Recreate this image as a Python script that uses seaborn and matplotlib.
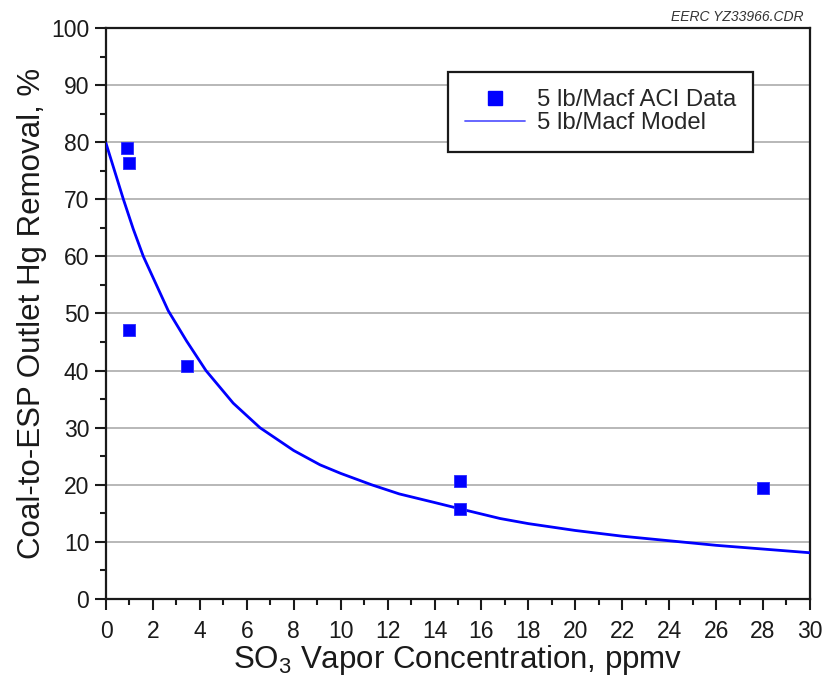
import matplotlib
matplotlib.use("Agg")
import matplotlib.pyplot as plt
from matplotlib.lines import Line2D
from matplotlib.ticker import MultipleLocator
import seaborn as sns
import pandas as pd

# Measured ACI data: SO3 vapor concentration (ppmv) vs. Hg removal (%)
so3_data = [0.9, 1.0, 1.0, 3.45, 15.1, 15.1, 28.0]
hg_removal_data = [79.0, 76.4, 47.1, 40.8, 20.7, 15.8, 19.5]

# Model curve for 5 lb/Macf injection
so3_model = [0.0, 0.74, 1.16, 1.59, 2.65, 3.43, 4.26, 5.42, 6.56, 8.0, 9.12,
             10.0, 11.32, 12.5, 14.0, 15.08, 16.79, 18.0, 20.0, 22.0, 24.0, 26.0, 28.0, 30.0]
hg_removal_model = [79.8, 70.0, 64.8, 60.0, 50.5, 45.2, 40.0, 34.3, 30.0, 26.0, 23.5,
                    22.0, 20.0, 18.4, 16.9, 15.8, 14.1, 13.2, 12.0, 11.0, 10.2, 9.4, 8.75, 8.1]

data_label = "5 lb/Macf ACI Data"
model_label = "5 lb/Macf Model"
x_ticks = list(range(0, 31, 2))
y_ticks = list(range(0, 101, 10))

df_data = pd.DataFrame({"so3": so3_data, "hg": hg_removal_data})
df_model = pd.DataFrame({"so3": so3_model, "hg": hg_removal_model})

sns.set_style("ticks")
plt.rcParams["font.family"] = ["Liberation Sans", "DejaVu Sans"]
plt.rcParams["mathtext.fontset"] = "custom"
plt.rcParams["mathtext.rm"] = "Liberation Sans"
plt.rcParams["mathtext.it"] = "Liberation Sans:italic"
plt.rcParams["mathtext.bf"] = "Liberation Sans:bold"

fig = plt.figure(figsize=(8.27, 6.76), dpi=100)
ax = fig.add_axes([0.1282, 0.1139, 0.8512, 0.8447])

ax.yaxis.grid(True, color="#b8b8b8", lw=1.4, zorder=0)
ax.set_axisbelow(True)

sns.lineplot(data=df_model, x="so3", y="hg", ax=ax, color="#0000ff", lw=2.0,
             estimator=None, sort=True, legend=False, zorder=3)
sns.scatterplot(data=df_data, x="so3", y="hg", ax=ax, color="#0000ff", marker="s",
                s=85, edgecolor="#2a2aff", linewidth=0.6, legend=False, zorder=4)

ax.set_xlim(0, 30)
ax.set_ylim(0, 100)
ax.set_xticks(x_ticks)
ax.set_yticks(y_ticks)
ax.xaxis.set_minor_locator(MultipleLocator(1))
ax.yaxis.set_minor_locator(MultipleLocator(5))
ax.tick_params(which="major", direction="out", length=8, width=1.5,
               labelsize=16.5, color="#1a1a1a", labelcolor="#1a1a1a")
ax.tick_params(axis="x", which="major", pad=7)
ax.tick_params(axis="y", which="major", pad=4)
ax.tick_params(which="minor", direction="out", length=4.5, width=1.5, color="#1a1a1a")

for sp in ax.spines.values():
    sp.set_visible(True)
    sp.set_color("#1a1a1a")
    sp.set_linewidth(1.6)

ax.set_xlabel("SO$_3$ Vapor Concentration, ppmv", fontsize=22.5, color="#1a1a1a", labelpad=0)
ax.set_ylabel("Coal-to-ESP Outlet Hg Removal, %", fontsize=22.5, color="#1a1a1a", labelpad=3)

handles = [
    Line2D([], [], marker="s", ls="none", color="#0000ff", markersize=9.5),
    Line2D([], [], color="#5a5aff", lw=1.3),
]
leg = ax.legend(handles, [data_label, model_label], loc="upper left",
                bbox_to_anchor=(0.486, 0.923), fontsize=17.2, frameon=True,
                fancybox=False, framealpha=1, edgecolor="#1a1a1a",
                handlelength=2.5, handletextpad=0.5, labelspacing=0.05,
                borderpad=0.72, borderaxespad=0)
leg.get_frame().set_linewidth(1.6)

fig.text(0.972, 0.965, "EERC YZ33966.CDR", ha="right", va="bottom",
         fontsize=10, style="italic", color="#333333")

fig.savefig("out.png", dpi=100)
